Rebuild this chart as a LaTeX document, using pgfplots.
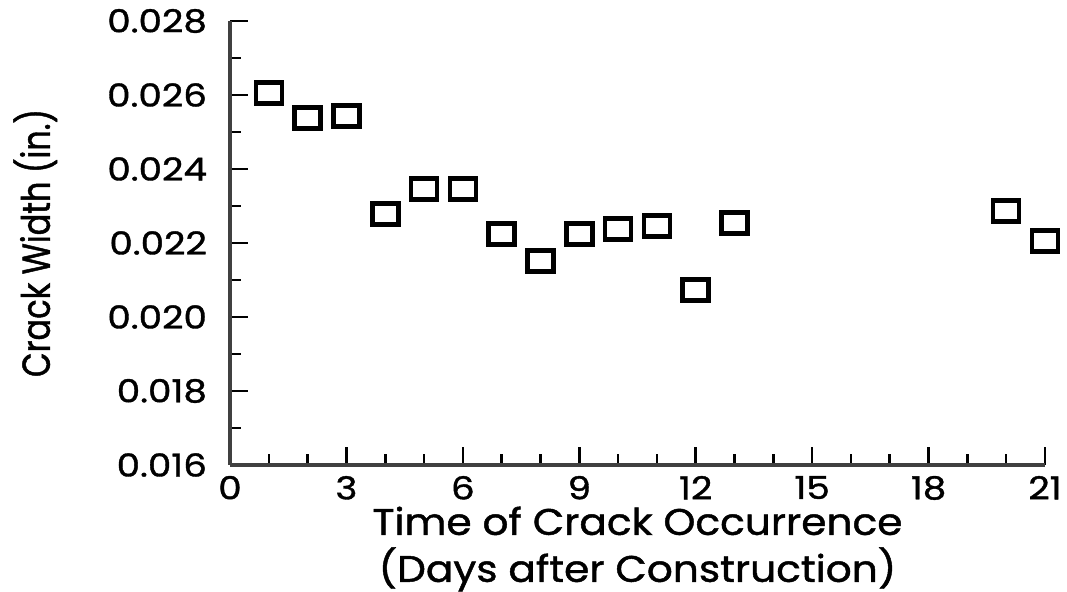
\documentclass[border=0pt]{standalone}
\usepackage{pgfplots}
\pgfplotsset{compat=1.18}
\usepackage{fontspec}
\setmainfont{Poppins}[FakeBold=1.2, FakeStretch=1.1]
\newfontfamily\ylabfont{Poppins}[FakeBold=1.2, FakeStretch=0.82]
\newfontfamily\tickfont{Poppins}[FakeBold=1.2, FakeStretch=1.18]
\begin{document}
\begin{tikzpicture}
\useasboundingbox (-115pt,-63.5pt) rectangle (418.5pt,232.5pt);
\begin{axis}[
  at={(0,0)}, anchor=south west,
  scale only axis, width=407.5pt, height=222pt,
  xmin=0, xmax=21, ymin=0.016, ymax=0.028,
  axis x line=bottom, axis y line=left,
  axis line style={-, line width=2.2pt, black!75},
  xtick={0,3,6,9,12,15,18,21}, minor x tick num=2,
  ytick={0.016,0.018,0.020,0.022,0.024,0.026,0.028}, minor y tick num=1,
  tick align=inside,
  major tick length=9pt, minor tick length=5.5pt,
  every tick/.style={black, line width=1.3pt},
  scaled y ticks=false,
  yticklabel style={xshift=-8pt, /pgf/number format/.cd, fixed, fixed zerofill, precision=3},
  xticklabel style={yshift=-2pt},
  /pgf/number format/assume math mode=true,
  tick label style={font=\tickfont\fontsize{15.8}{17}\selectfont},
  every axis x label/.style={at={(axis description cs:0.5,0)}, anchor=center, yshift=-42pt, align=center, font=\fontsize{18.5}{23.5}\selectfont},
  every axis y label/.style={at={(axis description cs:-0.239,0.5)}, rotate=90, anchor=center, font=\ylabfont\fontsize{19.5}{21}\selectfont},
  xlabel={Time of Crack Occurrence\\(Days after Construction)},
  ylabel={Crack Width (in.)},
  clip=false,
]
\addplot[only marks, mark=square, mark size=5.2pt, mark options={line width=2.3pt, xscale=1.25, black}] coordinates {
(1,0.02605) (2,0.02538) (3,0.02543) (4,0.02278) (5,0.02346) (6,0.02346)
(7,0.02224) (8,0.02151) (9,0.02224) (10,0.02238) (11,0.02246) (12,0.02073)
(13,0.02254) (20,0.02286) (21,0.02205)
};
\end{axis}
\end{tikzpicture}
\end{document}
